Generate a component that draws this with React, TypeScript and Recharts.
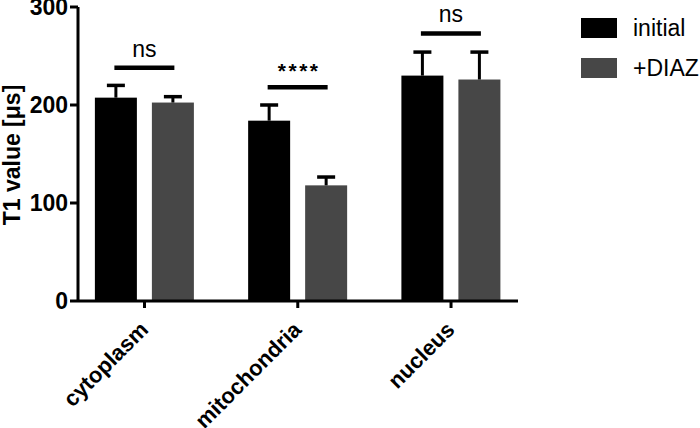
import React from 'react';
import { BarChart, Bar, XAxis, YAxis, Label } from 'recharts';

// T1 relaxation values per compartment, before and after DIAZ
const categories = ['cytoplasm', 'mitochondria', 'nucleus'];
const initialMeans = [207.5, 184, 230];
const initialErrors = [12.5, 16, 24];
const diazMeans = [202.5, 118, 226];
const diazErrors = [6, 8.5, 28];
const sigLevels = [238, 218, 273];
const sigLabels = ['ns', '****', 'ns'];
const yTicks = [0, 100, 200, 300];
const seriesNames = ['initial', '+DIAZ'];

const COLORS = { initial: '#000000', diaz: '#474747' };
const FONT = '"Liberation Sans", Arial, Helvetica, sans-serif';
const BAR_SIZE = 42;
const BAR_GAP = 15;

const rows = categories.map((name, i) => ({
  pos: i,
  name,
  initial: initialMeans[i],
  initialErr: initialErrors[i],
  diaz: diazMeans[i],
  diazErr: diazErrors[i],
  sig: sigLevels[i],
  sigLabel: sigLabels[i],
}));

const makeShape = (key: string, errKey: string, color: string, withSig: boolean) => (props: any) => {
  const { x, y, width, height, payload } = props;
  const value = payload[key];
  const k = value ? height / value : 0;
  const base = y + height;
  const cx = x + width / 2;
  const errTop = base - (value + payload[errKey]) * k;
  const sigY = base - payload.sig * k;
  const cx2 = cx + width + BAR_GAP;
  const stars = payload.sigLabel !== 'ns';
  return (
    <g>
      <rect x={x} y={y} width={width} height={height} fill={color} />
      <line x1={cx} x2={cx} y1={y} y2={errTop} stroke="#000" strokeWidth={3} />
      <line x1={cx - 9} x2={cx + 9} y1={errTop} y2={errTop} stroke="#000" strokeWidth={3.5} />
      {withSig && (
        <g>
          <line x1={cx - 1.5} x2={cx2 + 1.5} y1={sigY} y2={sigY} stroke="#000" strokeWidth={4.5} />
          <text
            x={(cx + cx2) / 2 + (stars ? 1.5 : 0)}
            y={stars ? sigY - 9 : sigY - 11}
            textAnchor="middle"
            fontFamily={FONT}
            fontSize={stars ? 21 : 23}
            fontWeight={stars ? 'bold' : 'normal'}
            letterSpacing={stars ? 2.5 : 0}
            fill="#000"
          >
            {payload.sigLabel}
          </text>
        </g>
      )}
    </g>
  );
};

const XTick = (props: any) => {
  const { x, y, payload } = props;
  const tx = x + 5;
  const ty = y + 21;
  return (
    <text
      x={tx}
      y={ty}
      transform={`rotate(-45 ${tx} ${ty})`}
      textAnchor="end"
      fontFamily={FONT}
      fontWeight="bold"
      fontSize={22}
      fill="#000"
    >
      {categories[payload.value]}
    </text>
  );
};

const renderYLabel = () => (
  <text
    x={20}
    y={155}
    transform="rotate(-90 20 155)"
    textAnchor="middle"
    fontFamily={FONT}
    fontWeight="bold"
    fontSize={23}
    fill="#000"
  >
    T1 value [μs]
  </text>
);

export default function App() {
  return (
    <div style={{ position: 'absolute', left: 0, top: 0, width: 700, height: 428, background: '#fff' }}>
      <BarChart
        width={700}
        height={428}
        data={rows}
        margin={{ top: 7, right: 182, bottom: 17, left: 0 }}
        barSize={BAR_SIZE}
        barGap={BAR_GAP}
      >
        <XAxis
          type="number"
          dataKey="pos"
          domain={[-0.434, 2.437]}
          allowDataOverflow
          ticks={[0, 1, 2]}
          interval={0}
          height={110}
          tickSize={7}
          tick={<XTick />}
          axisLine={{ stroke: '#000', strokeWidth: 3 }}
          tickLine={{ stroke: '#000', strokeWidth: 3 }}
        />
        <YAxis
          domain={[0, 300]}
          ticks={yTicks}
          width={78}
          tickSize={8}
          tickMargin={2}
          interval={0}
          tick={{ fill: '#000', fontSize: 23, fontWeight: 'bold', fontFamily: FONT }}
          axisLine={{ stroke: '#000', strokeWidth: 3 }}
          tickLine={{ stroke: '#000', strokeWidth: 3 }}
        >
          <Label content={renderYLabel} />
        </YAxis>
        <Bar
          dataKey="initial"
          name={seriesNames[0]}
          fill={COLORS.initial}
          shape={makeShape('initial', 'initialErr', COLORS.initial, true)}
          isAnimationActive={false}
        />
        <Bar
          dataKey="diaz"
          name={seriesNames[1]}
          fill={COLORS.diaz}
          shape={makeShape('diaz', 'diazErr', COLORS.diaz, false)}
          isAnimationActive={false}
        />
      </BarChart>
      <div style={{ position: 'absolute', left: 581, top: 18, fontFamily: FONT }}>
        {[COLORS.initial, COLORS.diaz].map((c, i) => (
          <div key={i} style={{ display: 'flex', alignItems: 'center', height: 20, marginBottom: 20 }}>
            <div style={{ width: 36, height: 20, background: c, marginRight: 16 }} />
            <span style={{ fontSize: 23, color: '#000', lineHeight: '20px' }}>{seriesNames[i]}</span>
          </div>
        ))}
      </div>
    </div>
  );
}
